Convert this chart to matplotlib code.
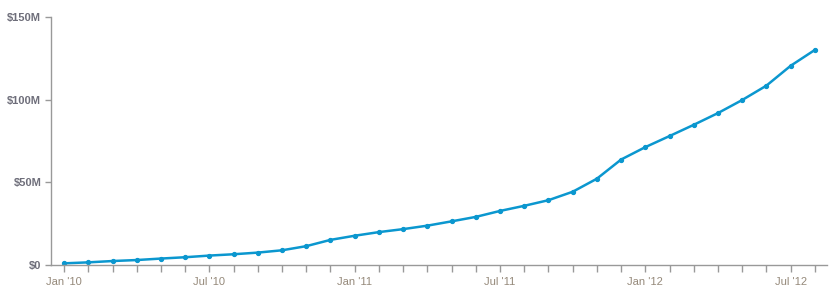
import matplotlib
matplotlib.use("Agg")
import matplotlib.pyplot as plt
import numpy as np

months = ["Jan '10","Feb '10","Mar '10","Apr '10","May '10","Jun '10","Jul '10","Aug '10","Sep '10","Oct '10","Nov '10","Dec '10",
          "Jan '11","Feb '11","Mar '11","Apr '11","May '11","Jun '11","Jul '11","Aug '11","Sep '11","Oct '11","Nov '11","Dec '11",
          "Jan '12","Feb '12","Mar '12","Apr '12","May '12","Jun '12","Jul '12","Aug '12"]
values = [1.0, 1.6, 2.4, 3.0, 3.9, 4.7, 5.7, 6.5, 7.5, 8.9, 11.4, 15.2,
          17.7, 19.9, 21.7, 23.8, 26.4, 29.1, 32.7, 35.8, 39.2, 44.3, 52.2, 63.8,
          71.3, 78.0, 84.8, 91.9, 99.8, 108.5, 120.5, 130.1]
y_ticks = [0, 50, 100, 150]
y_labels = ["$0", "$50M", "$100M", "$150M"]

plt.rcParams['font.family'] = ['Liberation Sans', 'DejaVu Sans']

fig = plt.figure(figsize=(8.36, 3.0), dpi=100)
ax = fig.add_axes([51/836, 1-265/300, (827-51)/836, (265-17)/300])

x = np.arange(len(values))
ax.plot(x, values, color='#0b97cf', lw=1.8, marker='o', ms=2.8, mec='#0b97cf', mfc='#0b97cf', solid_joinstyle='round')

ax.set_xlim(-0.54, len(values) - 1 + 0.5)
ax.set_ylim(0, 150)

for s in ['top', 'right']:
    ax.spines[s].set_visible(False)
for s in ['left', 'bottom']:
    ax.spines[s].set_color('#999999')
    ax.spines[s].set_linewidth(1)

ax.set_xticks(x)
ax.set_xticklabels([m if i % 6 == 0 else '' for i, m in enumerate(months)],
                   color='#95897a', fontsize=8)
ax.tick_params(axis='x', length=5, color='#999999', width=1, pad=3.5)

ax.set_yticks(y_ticks)
ax.set_yticklabels(y_labels, color='#6e6e7a', fontsize=8, fontweight='bold')
ax.tick_params(axis='y', length=4, color='#999999', width=1, pad=3)

fig.savefig('out.png', dpi=100)
